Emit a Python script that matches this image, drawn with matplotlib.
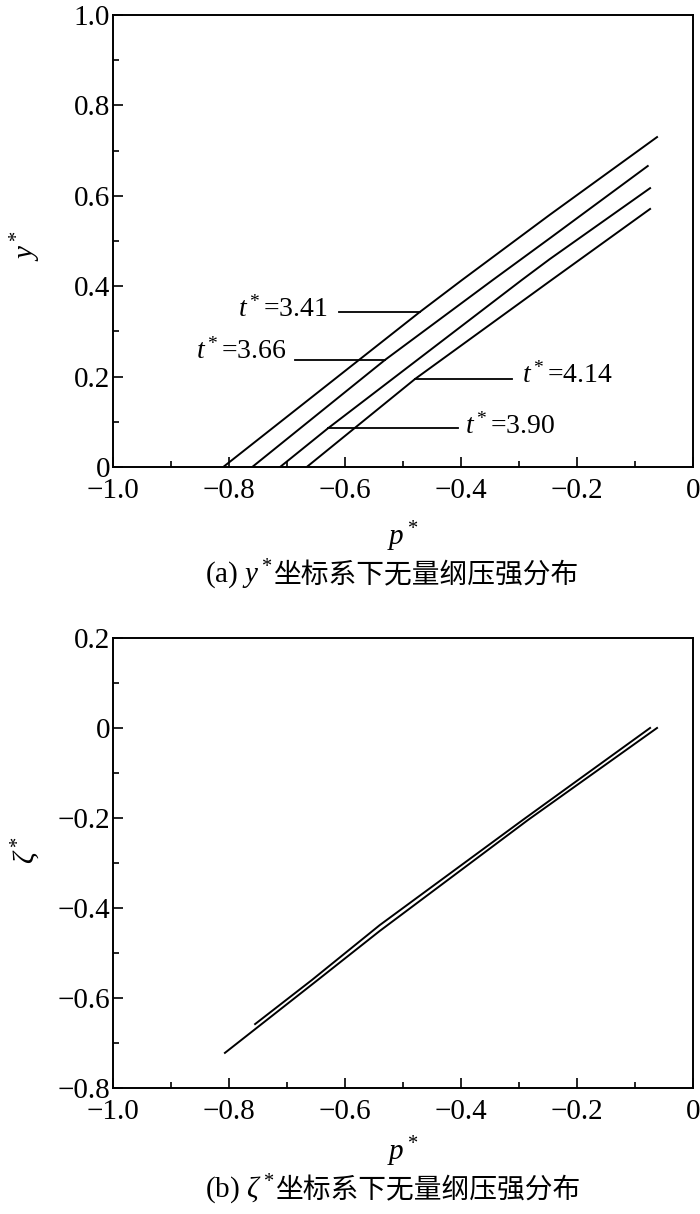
import matplotlib
matplotlib.use('Agg')
import matplotlib.pyplot as plt
from matplotlib.ticker import MultipleLocator, FuncFormatter

plt.rcParams['font.family'] = ['Liberation Serif', 'Noto Sans CJK SC']
plt.rcParams['mathtext.fontset'] = 'custom'
plt.rcParams['mathtext.rm'] = 'Liberation Serif'
plt.rcParams['mathtext.it'] = 'Liberation Serif:italic'

# (a) y* 坐标系下各时刻的压强分布
t_labels = ['3.41', '3.66', '3.90', '4.14']
p_341 = [-0.810, -0.471, -0.398, -0.247, -0.062]
y_341 = [0.0, 0.343, 0.414, 0.558, 0.730]
p_366 = [-0.760, -0.531, -0.345, -0.247, -0.078]
y_366 = [0.0, 0.237, 0.414, 0.506, 0.666]
p_390 = [-0.712, -0.629, -0.295, -0.247, -0.074]
y_390 = [0.0, 0.086, 0.414, 0.460, 0.617]
p_414 = [-0.666, -0.479, -0.247, -0.074]
y_414 = [0.0, 0.195, 0.411, 0.571]

# 标注引线 (p起点, p终点, y) 和文字位置
lead_p0 = [-0.610, -0.686, -0.629, -0.479]
lead_p1 = [-0.471, -0.531, -0.405, -0.312]
lead_y = [0.343, 0.237, 0.086, 0.195]
txt_p = [-0.629, -0.700, -0.393, -0.295]
txt_y = [0.348, 0.257, 0.089, 0.202]
txt_ha = ['right', 'right', 'left', 'left']

# (b) ζ* 坐标系下
pa = [-0.807, -0.647, -0.540, -0.284, -0.062]
za = [-0.722, -0.560, -0.451, -0.204, 0.0]
pb = [-0.755, -0.657, -0.540, -0.293, -0.074]
zb = [-0.658, -0.560, -0.438, -0.204, 0.0]


def fmt(v, pos):
    if abs(v) < 1e-9:
        return '0'
    return ('%.1f' % v).replace('-', '\u2212')


def style_axes(ax):
    ax.xaxis.set_major_locator(MultipleLocator(0.2))
    ax.xaxis.set_minor_locator(MultipleLocator(0.1))
    ax.yaxis.set_major_locator(MultipleLocator(0.2))
    ax.yaxis.set_minor_locator(MultipleLocator(0.1))
    ax.xaxis.set_major_formatter(FuncFormatter(fmt))
    ax.yaxis.set_major_formatter(FuncFormatter(fmt))
    ax.tick_params(which='both', direction='in', top=False, right=False, width=1.2, labelsize=21)
    ax.tick_params(which='major', length=7)
    ax.tick_params(which='minor', length=4)
    ax.tick_params(axis='x', pad=8)
    ax.tick_params(axis='y', pad=2)
    for s in ax.spines.values():
        s.set_linewidth(1.4)


fig = plt.figure(figsize=(7, 12.14), dpi=100)
ax1 = fig.add_axes([0.1614, 0.6153, 0.8286, 0.3723])
ax2 = fig.add_axes([0.1614, 0.1038, 0.8286, 0.3707])

lw = 1.4
ax1.plot(p_341, y_341, 'k-', lw=lw)
ax1.plot(p_366, y_366, 'k-', lw=lw)
ax1.plot(p_390, y_390, 'k-', lw=lw)
ax1.plot(p_414, y_414, 'k-', lw=lw)
for i in range(len(t_labels)):
    ax1.plot([lead_p0[i], lead_p1[i]], [lead_y[i], lead_y[i]], 'k-', lw=1.3)
    ax1.text(txt_p[i], txt_y[i], r'$t^*$=' + t_labels[i], fontsize=20,
             ha=txt_ha[i], va='center')
ax1.set_xlim(-1.0, 0)
ax1.set_ylim(0, 1.0)
style_axes(ax1)
ax1.set_xlabel(r'$p^*$', fontsize=21)
ax1.set_ylabel(r'$y^*$', fontsize=21)
ax1.xaxis.set_label_coords(0.5, -0.115)
ax1.yaxis.set_label_coords(-0.12, 0.49)

ax2.plot(pa, za, 'k-', lw=lw)
ax2.plot(pb, zb, 'k-', lw=lw)
ax2.set_xlim(-1.0, 0)
ax2.set_ylim(-0.8, 0.2)
style_axes(ax2)
ax2.set_xlabel(r'$p^*$', fontsize=21)
ax2.set_ylabel(r'$\zeta^*$', fontsize=21)
ax2.xaxis.set_label_coords(0.5, -0.103)
ax2.yaxis.set_label_coords(-0.12, 0.53)

# 图注
ta = fig.text(0.293, 0.5264, r'(a) $y^*$', fontsize=21, va='center', ha='left')
ax1.annotate('坐标系下无量纲压强分布', xy=(1, 0.5), xycoords=ta, xytext=(1, 0),
             textcoords='offset points', fontsize=20, va='center', ha='left',
             family=['Noto Sans CJK SC'])
tb = fig.text(0.293, 0.0198, r'(b) $\zeta^*$', fontsize=21, va='center', ha='left')
ax2.annotate('坐标系下无量纲压强分布', xy=(1, 0.5), xycoords=tb, xytext=(1, 0),
             textcoords='offset points', fontsize=20, va='center', ha='left',
             family=['Noto Sans CJK SC'])

fig.savefig('out.png', dpi=100)
